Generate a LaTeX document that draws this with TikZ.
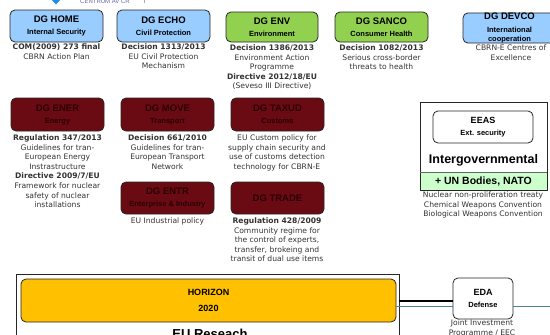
\documentclass[tikz,border=0pt]{standalone}
\usepackage{fontspec}
\setmainfont{DejaVu Sans}
\newfontfamily\arialf{Liberation Sans}
\definecolor{lblue}{HTML}{99CCFF}
\definecolor{lgreen}{HTML}{92D050}
\definecolor{dred}{HTML}{6A0A12}
\definecolor{dredtxt}{HTML}{2A0004}
\definecolor{pgreen}{HTML}{CCFFCC}
\definecolor{hor}{HTML}{FFC000}
\definecolor{teal}{HTML}{4F8296}
\definecolor{logoblue}{HTML}{1E8FE8}
\newcommand\sublbl[1]{{\fontsize{7.5}{12}\selectfont #1}}
\tikzset{
  dgbox/.style={draw=black!85, line width=0.8pt, rounded corners=5pt, inner sep=0pt,
    align=center, font=\arialf\bfseries\fontsize{9.5}{12}\selectfont},
  bluebox/.style={dgbox, fill=lblue},
  greenbox/.style={dgbox, fill=lgreen},
  redbox/.style={dgbox, fill=dred, text=dredtxt},
  note/.style={align=center, inner sep=0pt, anchor=north, font=\fontsize{7.6}{9.6}\selectfont, text=black!80},
  thickline/.style={line width=2pt, black},
  thinline/.style={line width=0.8pt, teal}
}
\begin{document}
\begin{tikzpicture}[x=1pt,y=-1pt]
\clip (0,0) rectangle (550,335);
\fill[white] (0,0) rectangle (550,335);
% top logo fragment
\fill[logoblue] (50,-2) -- (62,-2) -- (56,4.5) -- cycle;
\node[anchor=west, inner sep=0pt, font=\arialf\fontsize{6}{7}\selectfont, text=black!55!blue!60] (logo) at (80,0.5) {CENTRUM AV ČR\hspace{14pt}I};
% row 1
\node[bluebox, minimum width=93pt, minimum height=32pt] (home) at (56.5,26) {DG HOME\\\sublbl{Internal Security}};
\node[bluebox, minimum width=93pt, minimum height=32pt] (echo) at (163.5,26) {DG ECHO\\\sublbl{Civil Protection}};
\node[greenbox, minimum width=92pt, minimum height=30pt] (env) at (272,27) {DG ENV\\\sublbl{Environment}};
\node[greenbox, minimum width=93pt, minimum height=30pt] (sanco) at (381.5,27) {DG SANCO\\\sublbl{Consumer Health}};
\node[bluebox, minimum width=93pt, minimum height=30pt, font=\arialf\bfseries\fontsize{9.5}{9}\selectfont] (devco) at (509.5,28) {DG DEVCO\\[3.5pt]\sublbl{International}\\[0.5pt]\sublbl{cooperation}};
\node[note] (homet) at (56.5,43.5) {\textbf{COM(2009) 273 final}\\CBRN Action Plan};
\node[note] (echot) at (163.5,43.5) {\textbf{Decision 1313/2013}\\EU Civil Protection\\Mechanism};
\node[note] (envt) at (272,44.5) {\textbf{Decision 1386/2013}\\Environment Action\\Programme\\\textbf{Directive 2012/18/EU}\\(Seveso III Directive)};
\node[note] (sancot) at (381.5,44.5) {\textbf{Decision 1082/2013}\\Serious cross-border\\threats to health};
\node[note] (devcot) at (511,45) {CBRN-E Centres of\\Excellence};
% row 2
\node[redbox, minimum width=93pt, minimum height=33pt] (ener) at (57.5,114.5) {DG ENER\\\sublbl{Energy}};
\node[redbox, minimum width=93pt, minimum height=33pt] (move) at (167.5,114.5) {DG MOVE\\\sublbl{Transport}};
\node[redbox, minimum width=93pt, minimum height=33pt] (taxud) at (277.5,114.5) {DG TAXUD\\\sublbl{Customs}};
\node[redbox, minimum width=93pt, minimum height=32pt] (entr) at (167.5,198) {DG ENTR\\\sublbl{Enterprise \& Industry}};
\node[redbox, minimum width=93pt, minimum height=32pt] (trade) at (277.5,198) {DG TRADE};
\node[note] (enert) at (57.5,134.5) {\textbf{Regulation 347/2013}\\Guidelines for tran-\\European Energy\\Instrastructure\\\textbf{Directive 2009/7/EU}\\Framework for nuclear\\safety of nuclear\\installations};
\node[note] (movet) at (167.5,134.5) {\textbf{Decision 661/2010}\\Guidelines for tran-\\European Transport\\Network};
\node[note] (taxudt) at (277,134.5) {EU Custom policy for\\supply chain security and\\use of customs detection\\technology for CBRN-E};
\node[note] (entrt) at (167.5,217.5) {EU Industrial policy};
\node[note] (tradet) at (277,217.5) {\textbf{Regulation 428/2009}\\Community regime for\\the control of experts,\\transfer, brokeing and\\transit of dual use items};
% intergovernmental
\node[draw=black!85, line width=0.8pt, minimum width=127pt, minimum height=88pt, inner sep=0pt] (intergov) at (483.5,146) {};
\fill[pgreen] (420,172) rectangle (547,190);
\draw[black!85, line width=0.8pt] (420,102) rectangle (547,190);
\draw[black!60, line width=0.8pt] (420,172) -- (547,172);
\node[dgbox, fill=white, minimum width=100pt, minimum height=32pt, font=\arialf\bfseries\fontsize{9}{12}\selectfont] (eeas) at (483,127) {EEAS\\\sublbl{Ext. security}};
\node[inner sep=0pt, font=\arialf\bfseries\fontsize{12.5}{14}\selectfont] (igtext) at (483.5,160) {Intergovernmental};
\node[inner sep=0pt, font=\arialf\bfseries\fontsize{10.5}{12}\selectfont] (un) at (483.5,181.5) {+ UN Bodies, NATO};
\node[note] (treaties) at (483,191.5) {Nuclear non-proliferation treaty\\Chemical Weapons Convention\\Biological Weapons Convention};
% bottom
\node[draw=black!85, line width=0.8pt, minimum width=382.5pt, minimum height=80pt, inner sep=0pt] (research) at (207.75,314) {};
\node[dgbox, fill=hor, minimum width=375pt, minimum height=43pt, font=\arialf\bfseries\fontsize{9}{16}\selectfont] (horizon) at (208.5,300.5) {HORIZON\\2020};
\node[inner sep=0pt, font=\arialf\bfseries\fontsize{13}{15}\selectfont] (restext) at (210,334) {EU Reseach};
\node[dgbox, fill=white, minimum width=60pt, minimum height=41pt, font=\arialf\bfseries\fontsize{9}{12}\selectfont] (eda) at (483,298.5) {EDA\\\sublbl{Defense}};
\node[note] (edat) at (482,320) {Joint Investment\\Programme / EEC};
\coordinate (edaout) at (550,306);
\draw[thickline] (research.east |- {0,301}) -- (eda.west |- {0,301});
\draw[thinline] (horizon.east |- {0,306}) -- (eda.west |- {0,306});
\draw[thinline] (eda.east |- edaout) -- (edaout);
\end{tikzpicture}
\end{document}
